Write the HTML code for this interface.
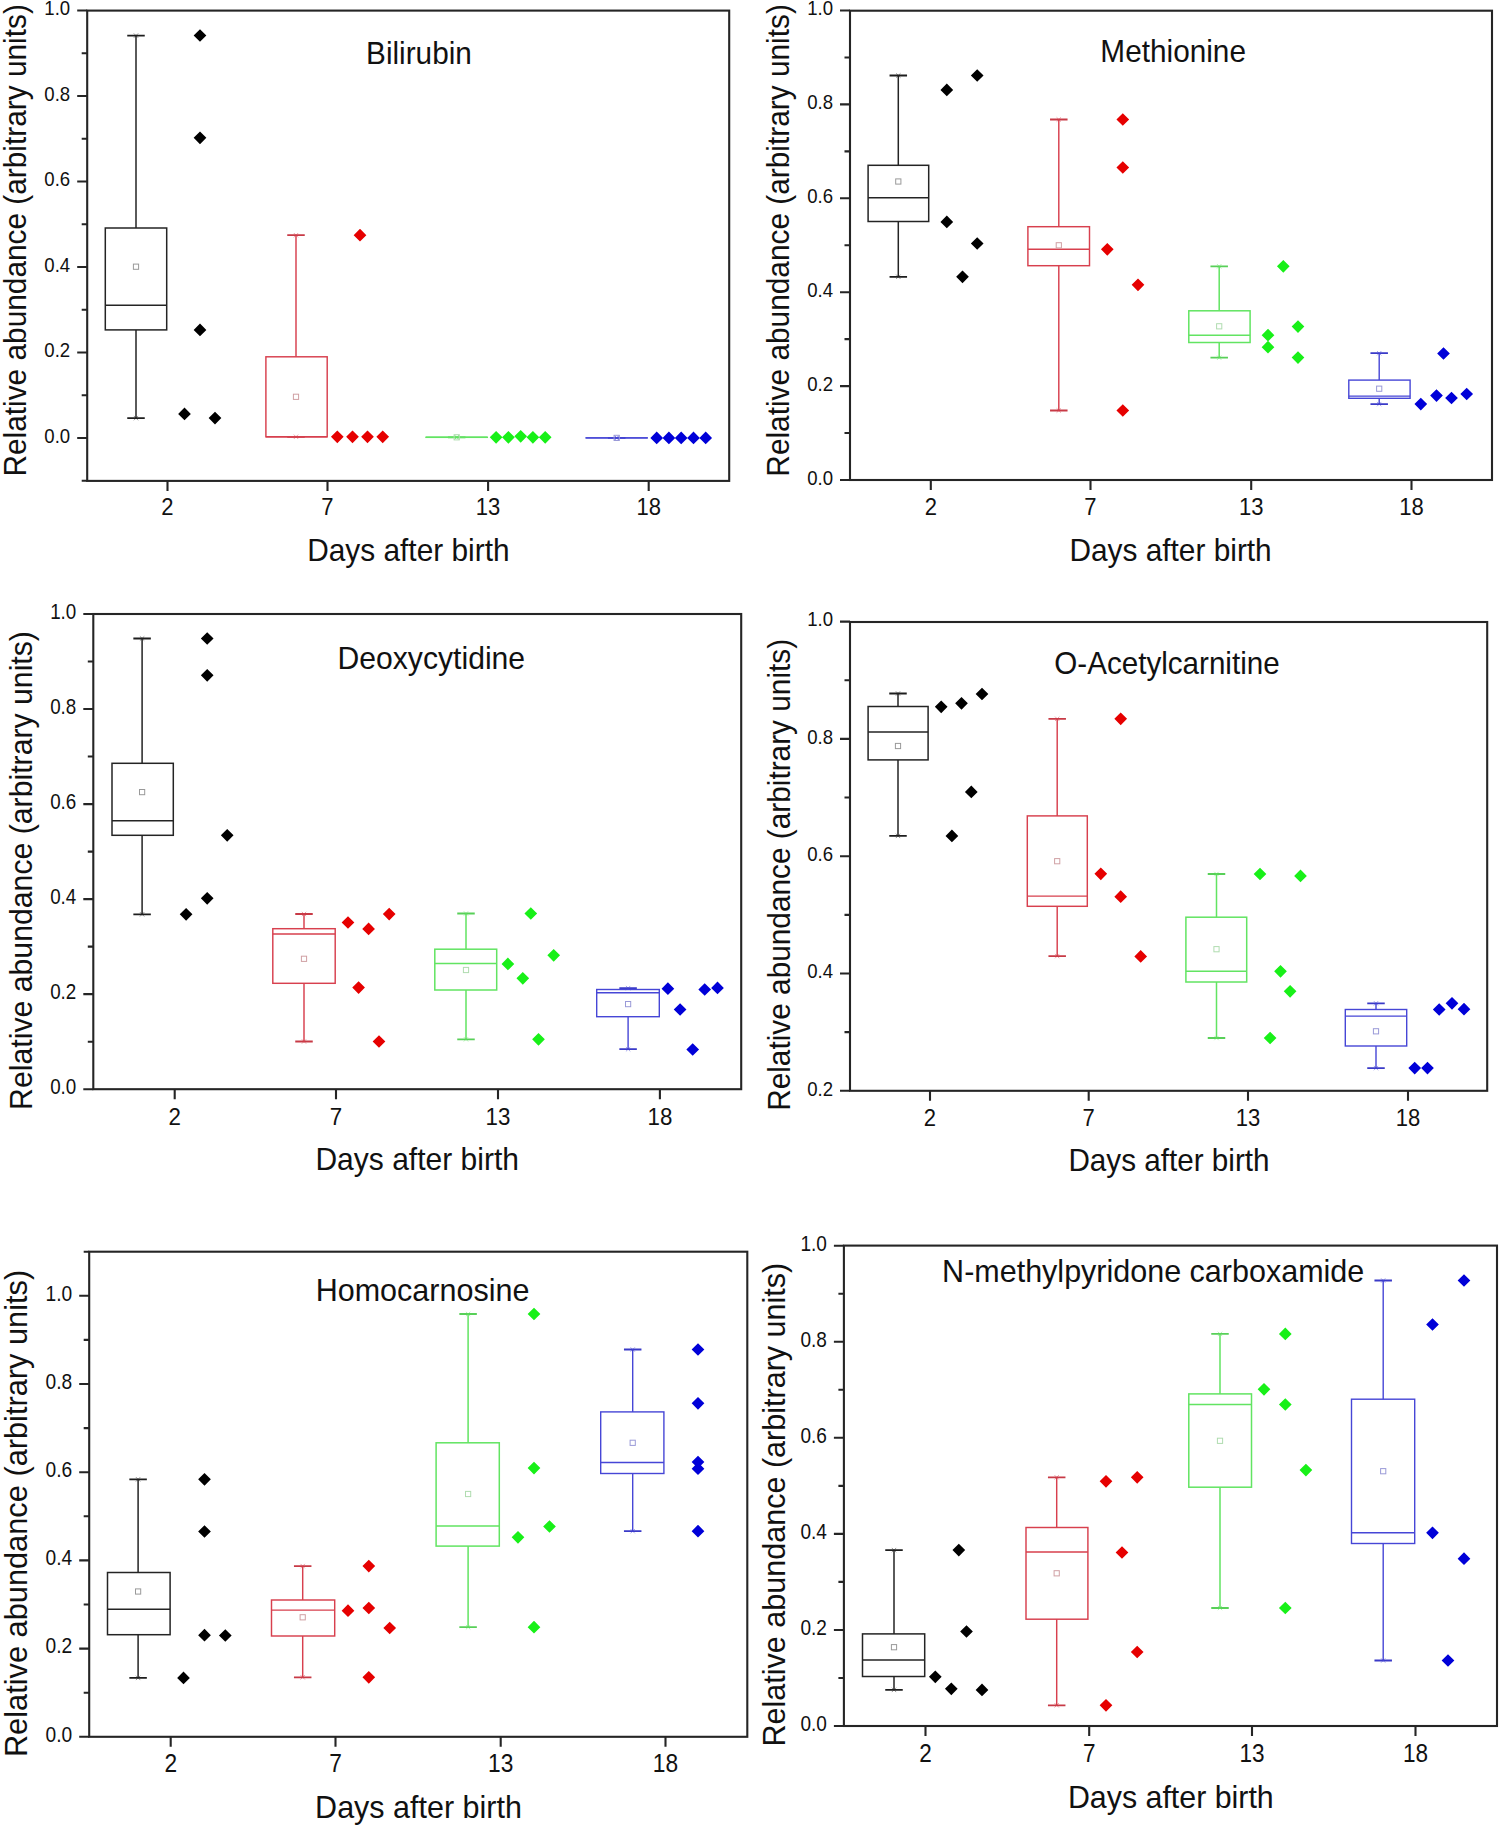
<!DOCTYPE html>
<html><head><meta charset="utf-8"><style>
html,body{margin:0;padding:0;background:#fff;}
svg{display:block;}
text{font-family:"Liberation Sans",sans-serif;fill:#111;}
</style></head><body>
<svg width="1500" height="1828" viewBox="0 0 1500 1828">
<rect width="1500" height="1828" fill="#fff"/>
<rect x="87.2" y="10.6" width="642" height="470.3" fill="none" stroke="#252525" stroke-width="2.1"/>
<path d="M77.2 438H87.2M77.2 352.5H87.2M77.2 267H87.2M77.2 181.5H87.2M77.2 96H87.2M77.2 10.5H87.2M81.7 480.75H87.2M81.7 395.25H87.2M81.7 309.75H87.2M81.7 224.25H87.2M81.7 138.75H87.2M81.7 53.25H87.2M167.5 480.9V490.9M327.5 480.9V490.9M488.1 480.9V490.9M648.7 480.9V490.9" stroke="#252525" stroke-width="2.1" fill="none"/>
<text transform="translate(70.2 442.7) scale(0.89 1)" text-anchor="end" fill="#222" font-size="20.9">0.0</text>
<text transform="translate(70.2 357.2) scale(0.89 1)" text-anchor="end" fill="#222" font-size="20.9">0.2</text>
<text transform="translate(70.2 271.7) scale(0.89 1)" text-anchor="end" fill="#222" font-size="20.9">0.4</text>
<text transform="translate(70.2 186.2) scale(0.89 1)" text-anchor="end" fill="#222" font-size="20.9">0.6</text>
<text transform="translate(70.2 100.7) scale(0.89 1)" text-anchor="end" fill="#222" font-size="20.9">0.8</text>
<text transform="translate(70.2 15.2) scale(0.89 1)" text-anchor="end" fill="#222" font-size="20.9">1.0</text>
<text transform="translate(167.5 515.2) scale(0.9 1)" text-anchor="middle" fill="#1a1a1a" font-size="24.5">2</text>
<text transform="translate(327.5 515.2) scale(0.9 1)" text-anchor="middle" fill="#1a1a1a" font-size="24.5">7</text>
<text transform="translate(488.1 515.2) scale(0.9 1)" text-anchor="middle" fill="#1a1a1a" font-size="24.5">13</text>
<text transform="translate(648.7 515.2) scale(0.9 1)" text-anchor="middle" fill="#1a1a1a" font-size="24.5">18</text>
<text transform="translate(366.05 64) scale(0.9752 1)" font-size="30.5">Bilirubin</text>
<text transform="translate(307.24 560.6) scale(0.9788 1)" font-size="30.5">Days after birth</text>
<text transform="translate(26.3 476.56) rotate(-90) scale(0.9781 1)" font-size="30.5">Relative abundance (arbitrary units)</text>
<path d="M136 35.6V228M136 329.9V418.1M105.3 305.3H166.7" stroke="#242424" stroke-width="1.5" fill="none"/>
<path d="M127.25 35.6H144.75M127.25 418.1H144.75" stroke="#1e1e1e" stroke-width="1.8" fill="none"/>
<rect x="105.3" y="228" width="61.4" height="101.9" fill="none" stroke="#242424" stroke-width="1.5"/>
<path d="M133.8 33.4L138.2 37.8M138.2 33.4L133.8 37.8M133.8 415.9L138.2 420.3M138.2 415.9L133.8 420.3" stroke="#242424" stroke-width="0.8" opacity="0.6" fill="none"/>
<rect x="133.4" y="264.1" width="5.2" height="5.2" fill="none" stroke="#999999" stroke-width="1"/>
<path d="M296 235.2V356.8M296 436.8V436.8M265.9 436.8H327.2" stroke="#d8404e" stroke-width="1.45" fill="none"/>
<path d="M287.25 235.2H304.75M287.25 436.8H304.75" stroke="#c83a46" stroke-width="1.8" fill="none"/>
<rect x="265.9" y="356.8" width="61.3" height="80" fill="none" stroke="#d8404e" stroke-width="1.45"/>
<path d="M293.8 233L298.2 237.4M298.2 233L293.8 237.4M293.8 434.6L298.2 439M298.2 434.6L293.8 439" stroke="#d8404e" stroke-width="0.8" opacity="0.6" fill="none"/>
<rect x="293.4" y="394.2" width="5.2" height="5.2" fill="none" stroke="#d0a0a4" stroke-width="1"/>
<path d="M456.7 437.3V437.3M456.7 437.3V437.3M426 437.3H487.3" stroke="#62e462" stroke-width="1.5" fill="none"/>
<path d="M447.95 437.3H465.45M447.95 437.3H465.45" stroke="#58d058" stroke-width="1.8" fill="none"/>
<rect x="426" y="437.3" width="61.3" height="0.01" fill="none" stroke="#62e462" stroke-width="1.5"/>
<path d="M454.5 435.1L458.9 439.5M458.9 435.1L454.5 439.5M454.5 435.1L458.9 439.5M458.9 435.1L454.5 439.5" stroke="#62e462" stroke-width="0.8" opacity="0.6" fill="none"/>
<rect x="454.1" y="434.7" width="5.2" height="5.2" fill="none" stroke="#b0dcb0" stroke-width="1"/>
<path d="M616.7 437.9V437.9M616.7 437.9V437.9M586 437.9H647.3" stroke="#4646d6" stroke-width="1.4" fill="none"/>
<path d="M607.95 437.9H625.45M607.95 437.9H625.45" stroke="#3a3ac8" stroke-width="1.8" fill="none"/>
<rect x="586" y="437.9" width="61.3" height="0.01" fill="none" stroke="#4646d6" stroke-width="1.4"/>
<path d="M614.5 435.7L618.9 440.1M618.9 435.7L614.5 440.1M614.5 435.7L618.9 440.1M618.9 435.7L614.5 440.1" stroke="#4646d6" stroke-width="0.8" opacity="0.6" fill="none"/>
<rect x="614.1" y="435.3" width="5.2" height="5.2" fill="none" stroke="#9a9ad8" stroke-width="1"/>
<path d="M200 29.15L206.35 35.5L200 41.85L193.65 35.5ZM200 131.45L206.35 137.8L200 144.15L193.65 137.8ZM200 323.55L206.35 329.9L200 336.25L193.65 329.9ZM184.5 407.55L190.85 413.9L184.5 420.25L178.15 413.9ZM215 411.75L221.35 418.1L215 424.45L208.65 418.1Z" fill="#000000"/>
<path d="M360 228.85L366.35 235.2L360 241.55L353.65 235.2ZM337.3 430.45L343.65 436.8L337.3 443.15L330.95 436.8ZM352.5 430.45L358.85 436.8L352.5 443.15L346.15 436.8ZM367.5 430.45L373.85 436.8L367.5 443.15L361.15 436.8ZM382.7 430.45L389.05 436.8L382.7 443.15L376.35 436.8Z" fill="#e60000"/>
<path d="M496.1 430.95L502.45 437.3L496.1 443.65L489.75 437.3ZM508.4 430.95L514.75 437.3L508.4 443.65L502.05 437.3ZM520.7 429.95L527.05 436.3L520.7 442.65L514.35 436.3ZM532.9 430.95L539.25 437.3L532.9 443.65L526.55 437.3ZM545.2 430.95L551.55 437.3L545.2 443.65L538.85 437.3Z" fill="#18f018"/>
<path d="M656.7 431.55L663.05 437.9L656.7 444.25L650.35 437.9ZM668.9 431.55L675.25 437.9L668.9 444.25L662.55 437.9ZM681.2 431.55L687.55 437.9L681.2 444.25L674.85 437.9ZM693.5 431.55L699.85 437.9L693.5 444.25L687.15 437.9ZM705.7 431.55L712.05 437.9L705.7 444.25L699.35 437.9Z" fill="#0000d8"/>
<rect x="850" y="10.7" width="642" height="469.3" fill="none" stroke="#252525" stroke-width="2.1"/>
<path d="M840 480H850M840 386.1H850M840 292.2H850M840 198.3H850M840 104.4H850M840 10.5H850M844.5 433.05H850M844.5 339.15H850M844.5 245.25H850M844.5 151.35H850M844.5 57.45H850M930.8 480V490M1090.5 480V490M1251.2 480V490M1411.5 480V490" stroke="#252525" stroke-width="2.1" fill="none"/>
<text transform="translate(833 484.7) scale(0.89 1)" text-anchor="end" fill="#222" font-size="20.9">0.0</text>
<text transform="translate(833 390.8) scale(0.89 1)" text-anchor="end" fill="#222" font-size="20.9">0.2</text>
<text transform="translate(833 296.9) scale(0.89 1)" text-anchor="end" fill="#222" font-size="20.9">0.4</text>
<text transform="translate(833 203) scale(0.89 1)" text-anchor="end" fill="#222" font-size="20.9">0.6</text>
<text transform="translate(833 109.1) scale(0.89 1)" text-anchor="end" fill="#222" font-size="20.9">0.8</text>
<text transform="translate(833 15.2) scale(0.89 1)" text-anchor="end" fill="#222" font-size="20.9">1.0</text>
<text transform="translate(930.8 515.3) scale(0.9 1)" text-anchor="middle" fill="#1a1a1a" font-size="24.5">2</text>
<text transform="translate(1090.5 515.3) scale(0.9 1)" text-anchor="middle" fill="#1a1a1a" font-size="24.5">7</text>
<text transform="translate(1251.2 515.3) scale(0.9 1)" text-anchor="middle" fill="#1a1a1a" font-size="24.5">13</text>
<text transform="translate(1411.5 515.3) scale(0.9 1)" text-anchor="middle" fill="#1a1a1a" font-size="24.5">18</text>
<text transform="translate(1100.35 62.3) scale(0.9767 1)" font-size="30.5">Methionine</text>
<text transform="translate(1069.44 560.6) scale(0.9788 1)" font-size="30.5">Days after birth</text>
<text transform="translate(789 476.66) rotate(-90) scale(0.9785 1)" font-size="30.5">Relative abundance (arbitrary units)</text>
<path d="M898.3 75.5V165.3M898.3 221.5V276.8M868.1 197.7H928.7" stroke="#242424" stroke-width="1.5" fill="none"/>
<path d="M889.55 75.5H907.05M889.55 276.8H907.05" stroke="#1e1e1e" stroke-width="1.8" fill="none"/>
<rect x="868.1" y="165.3" width="60.6" height="56.2" fill="none" stroke="#242424" stroke-width="1.5"/>
<path d="M896.1 73.3L900.5 77.7M900.5 73.3L896.1 77.7M896.1 274.6L900.5 279M900.5 274.6L896.1 279" stroke="#242424" stroke-width="0.8" opacity="0.6" fill="none"/>
<rect x="895.7" y="178.9" width="5.2" height="5.2" fill="none" stroke="#999999" stroke-width="1"/>
<path d="M1058.8 119.5V226.7M1058.8 265.7V410.5M1027.9 249.3H1089.5" stroke="#d8404e" stroke-width="1.45" fill="none"/>
<path d="M1050.05 119.5H1067.55M1050.05 410.5H1067.55" stroke="#c83a46" stroke-width="1.8" fill="none"/>
<rect x="1027.9" y="226.7" width="61.6" height="39" fill="none" stroke="#d8404e" stroke-width="1.45"/>
<path d="M1056.6 117.3L1061 121.7M1061 117.3L1056.6 121.7M1056.6 408.3L1061 412.7M1061 408.3L1056.6 412.7" stroke="#d8404e" stroke-width="0.8" opacity="0.6" fill="none"/>
<rect x="1056.2" y="242.7" width="5.2" height="5.2" fill="none" stroke="#d0a0a4" stroke-width="1"/>
<path d="M1219.2 266.3V310.8M1219.2 342.5V357.7M1188.8 335.3H1250.1" stroke="#62e462" stroke-width="1.5" fill="none"/>
<path d="M1210.45 266.3H1227.95M1210.45 357.7H1227.95" stroke="#58d058" stroke-width="1.8" fill="none"/>
<rect x="1188.8" y="310.8" width="61.3" height="31.7" fill="none" stroke="#62e462" stroke-width="1.5"/>
<path d="M1217 264.1L1221.4 268.5M1221.4 264.1L1217 268.5M1217 355.5L1221.4 359.9M1221.4 355.5L1217 359.9" stroke="#62e462" stroke-width="0.8" opacity="0.6" fill="none"/>
<rect x="1216.6" y="323.7" width="5.2" height="5.2" fill="none" stroke="#b0dcb0" stroke-width="1"/>
<path d="M1379.2 353.2V380.1M1379.2 398.3V404.1M1348.8 396.1H1410.1" stroke="#4646d6" stroke-width="1.4" fill="none"/>
<path d="M1370.45 353.2H1387.95M1370.45 404.1H1387.95" stroke="#3a3ac8" stroke-width="1.8" fill="none"/>
<rect x="1348.8" y="380.1" width="61.3" height="18.2" fill="none" stroke="#4646d6" stroke-width="1.4"/>
<path d="M1377 351L1381.4 355.4M1381.4 351L1377 355.4M1377 401.9L1381.4 406.3M1381.4 401.9L1377 406.3" stroke="#4646d6" stroke-width="0.8" opacity="0.6" fill="none"/>
<rect x="1376.6" y="386.1" width="5.2" height="5.2" fill="none" stroke="#9a9ad8" stroke-width="1"/>
<path d="M946.8 83.55L953.15 89.9L946.8 96.25L940.45 89.9ZM977.2 69.15L983.55 75.5L977.2 81.85L970.85 75.5ZM946.8 215.55L953.15 221.9L946.8 228.25L940.45 221.9ZM977.2 237.15L983.55 243.5L977.2 249.85L970.85 243.5ZM962.5 270.45L968.85 276.8L962.5 283.15L956.15 276.8Z" fill="#000000"/>
<path d="M1122.8 113.15L1129.15 119.5L1122.8 125.85L1116.45 119.5ZM1122.8 161.15L1129.15 167.5L1122.8 173.85L1116.45 167.5ZM1107.3 242.95L1113.65 249.3L1107.3 255.65L1100.95 249.3ZM1138 278.45L1144.35 284.8L1138 291.15L1131.65 284.8ZM1122.8 404.15L1129.15 410.5L1122.8 416.85L1116.45 410.5Z" fill="#e60000"/>
<path d="M1283.3 259.95L1289.65 266.3L1283.3 272.65L1276.95 266.3ZM1268 328.85L1274.35 335.2L1268 341.55L1261.65 335.2ZM1268 340.85L1274.35 347.2L1268 353.55L1261.65 347.2ZM1298 320.25L1304.35 326.6L1298 332.95L1291.65 326.6ZM1298 351.25L1304.35 357.6L1298 363.95L1291.65 357.6Z" fill="#18f018"/>
<path d="M1443.5 347.15L1449.85 353.5L1443.5 359.85L1437.15 353.5ZM1420.8 397.75L1427.15 404.1L1420.8 410.45L1414.45 404.1ZM1436.5 389.25L1442.85 395.6L1436.5 401.95L1430.15 395.6ZM1451.5 391.65L1457.85 398L1451.5 404.35L1445.15 398ZM1466.7 387.65L1473.05 394L1466.7 400.35L1460.35 394Z" fill="#0000d8"/>
<rect x="93.3" y="614" width="647.9" height="475.2" fill="none" stroke="#252525" stroke-width="2.1"/>
<path d="M83.3 1089.2H93.3M83.3 994.16H93.3M83.3 899.12H93.3M83.3 804.08H93.3M83.3 709.04H93.3M83.3 614H93.3M87.8 1041.68H93.3M87.8 946.64H93.3M87.8 851.6H93.3M87.8 756.56H93.3M87.8 661.52H93.3M174.7 1089.2V1099.2M336 1089.2V1099.2M498 1089.2V1099.2M659.9 1089.2V1099.2" stroke="#252525" stroke-width="2.1" fill="none"/>
<text transform="translate(76.3 1093.96) scale(0.89 1)" text-anchor="end" fill="#222" font-size="21.15">0.0</text>
<text transform="translate(76.3 998.92) scale(0.89 1)" text-anchor="end" fill="#222" font-size="21.15">0.2</text>
<text transform="translate(76.3 903.88) scale(0.89 1)" text-anchor="end" fill="#222" font-size="21.15">0.4</text>
<text transform="translate(76.3 808.84) scale(0.89 1)" text-anchor="end" fill="#222" font-size="21.15">0.6</text>
<text transform="translate(76.3 713.8) scale(0.89 1)" text-anchor="end" fill="#222" font-size="21.15">0.8</text>
<text transform="translate(76.3 618.76) scale(0.89 1)" text-anchor="end" fill="#222" font-size="21.15">1.0</text>
<text transform="translate(174.7 1125) scale(0.9 1)" text-anchor="middle" fill="#1a1a1a" font-size="24.79">2</text>
<text transform="translate(336 1125) scale(0.9 1)" text-anchor="middle" fill="#1a1a1a" font-size="24.79">7</text>
<text transform="translate(498 1125) scale(0.9 1)" text-anchor="middle" fill="#1a1a1a" font-size="24.79">13</text>
<text transform="translate(659.9 1125) scale(0.9 1)" text-anchor="middle" fill="#1a1a1a" font-size="24.79">18</text>
<text transform="translate(337.52 668.5) scale(0.9882 1)" font-size="30.5">Deoxycytidine</text>
<text transform="translate(315.43 1170.3) scale(0.9847 1)" font-size="30.5">Days after birth</text>
<text transform="translate(32.2 1109.88) rotate(-90) scale(0.9912 1)" font-size="30.5">Relative abundance (arbitrary units)</text>
<path d="M142.1 638.5V763.3M142.1 835.3V914.3M112 820.7H173.3" stroke="#242424" stroke-width="1.5" fill="none"/>
<path d="M133.35 638.5H150.85M133.35 914.3H150.85" stroke="#1e1e1e" stroke-width="1.8" fill="none"/>
<rect x="112" y="763.3" width="61.3" height="72" fill="none" stroke="#242424" stroke-width="1.5"/>
<path d="M139.9 636.3L144.3 640.7M144.3 636.3L139.9 640.7M139.9 912.1L144.3 916.5M144.3 912.1L139.9 916.5" stroke="#242424" stroke-width="0.8" opacity="0.6" fill="none"/>
<rect x="139.5" y="789.5" width="5.2" height="5.2" fill="none" stroke="#999999" stroke-width="1"/>
<path d="M304 914V928.7M304 983.3V1041.5M272.8 934H335.2" stroke="#d8404e" stroke-width="1.45" fill="none"/>
<path d="M295.25 914H312.75M295.25 1041.5H312.75" stroke="#c83a46" stroke-width="1.8" fill="none"/>
<rect x="272.8" y="928.7" width="62.4" height="54.6" fill="none" stroke="#d8404e" stroke-width="1.45"/>
<path d="M301.8 911.8L306.2 916.2M306.2 911.8L301.8 916.2M301.8 1039.3L306.2 1043.7M306.2 1039.3L301.8 1043.7" stroke="#d8404e" stroke-width="0.8" opacity="0.6" fill="none"/>
<rect x="301.4" y="956.2" width="5.2" height="5.2" fill="none" stroke="#d0a0a4" stroke-width="1"/>
<path d="M466 913.5V949.2M466 990V1039.3M434.8 963.6H496.7" stroke="#62e462" stroke-width="1.5" fill="none"/>
<path d="M457.25 913.5H474.75M457.25 1039.3H474.75" stroke="#58d058" stroke-width="1.8" fill="none"/>
<rect x="434.8" y="949.2" width="61.9" height="40.8" fill="none" stroke="#62e462" stroke-width="1.5"/>
<path d="M463.8 911.3L468.2 915.7M468.2 911.3L463.8 915.7M463.8 1037.1L468.2 1041.5M468.2 1037.1L463.8 1041.5" stroke="#62e462" stroke-width="0.8" opacity="0.6" fill="none"/>
<rect x="463.4" y="967.4" width="5.2" height="5.2" fill="none" stroke="#b0dcb0" stroke-width="1"/>
<path d="M628.1 988.1V989.5M628.1 1016.7V1049.2M596.7 992.7H659.3" stroke="#4646d6" stroke-width="1.4" fill="none"/>
<path d="M619.35 988.1H636.85M619.35 1049.2H636.85" stroke="#3a3ac8" stroke-width="1.8" fill="none"/>
<rect x="596.7" y="989.5" width="62.6" height="27.2" fill="none" stroke="#4646d6" stroke-width="1.4"/>
<path d="M625.9 985.9L630.3 990.3M630.3 985.9L625.9 990.3M625.9 1047L630.3 1051.4M630.3 1047L625.9 1051.4" stroke="#4646d6" stroke-width="0.8" opacity="0.6" fill="none"/>
<rect x="625.5" y="1001.5" width="5.2" height="5.2" fill="none" stroke="#9a9ad8" stroke-width="1"/>
<path d="M207.2 632.15L213.55 638.5L207.2 644.85L200.85 638.5ZM207.2 668.95L213.55 675.3L207.2 681.65L200.85 675.3ZM227.2 828.95L233.55 835.3L227.2 841.65L220.85 835.3ZM186.1 907.95L192.45 914.3L186.1 920.65L179.75 914.3ZM207.2 891.95L213.55 898.3L207.2 904.65L200.85 898.3Z" fill="#000000"/>
<path d="M348 916.15L354.35 922.5L348 928.85L341.65 922.5ZM368.6 922.55L374.95 928.9L368.6 935.25L362.25 928.9ZM389.2 907.75L395.55 914.1L389.2 920.45L382.85 914.1ZM358.6 981.25L364.95 987.6L358.6 993.95L352.25 987.6ZM379 1035.15L385.35 1041.5L379 1047.85L372.65 1041.5Z" fill="#e60000"/>
<path d="M530.8 907.15L537.15 913.5L530.8 919.85L524.45 913.5ZM507.9 957.55L514.25 963.9L507.9 970.25L501.55 963.9ZM522.8 971.95L529.15 978.3L522.8 984.65L516.45 978.3ZM553.7 948.95L560.05 955.3L553.7 961.65L547.35 955.3ZM538.5 1032.95L544.85 1039.3L538.5 1045.65L532.15 1039.3Z" fill="#18f018"/>
<path d="M667.9 982.35L674.25 988.7L667.9 995.05L661.55 988.7ZM680.1 1003.15L686.45 1009.5L680.1 1015.85L673.75 1009.5ZM692.7 1043.15L699.05 1049.5L692.7 1055.85L686.35 1049.5ZM704.7 983.15L711.05 989.5L704.7 995.85L698.35 989.5ZM717.5 981.55L723.85 987.9L717.5 994.25L711.15 987.9Z" fill="#0000d8"/>
<rect x="850" y="622" width="637.2" height="468.8" fill="none" stroke="#252525" stroke-width="2.1"/>
<path d="M840 1090.8H850M840 973.5H850M840 856.2H850M840 738.9H850M840 621.6H850M844.5 1032.15H850M844.5 914.85H850M844.5 797.55H850M844.5 680.25H850M930 1090.8V1100.8M1088.7 1090.8V1100.8M1248 1090.8V1100.8M1408 1090.8V1100.8" stroke="#252525" stroke-width="2.1" fill="none"/>
<text transform="translate(833 1095.5) scale(0.89 1)" text-anchor="end" fill="#222" font-size="20.9">0.2</text>
<text transform="translate(833 978.2) scale(0.89 1)" text-anchor="end" fill="#222" font-size="20.9">0.4</text>
<text transform="translate(833 860.9) scale(0.89 1)" text-anchor="end" fill="#222" font-size="20.9">0.6</text>
<text transform="translate(833 743.6) scale(0.89 1)" text-anchor="end" fill="#222" font-size="20.9">0.8</text>
<text transform="translate(833 626.3) scale(0.89 1)" text-anchor="end" fill="#222" font-size="20.9">1.0</text>
<text transform="translate(930 1125.5) scale(0.9 1)" text-anchor="middle" fill="#1a1a1a" font-size="24.5">2</text>
<text transform="translate(1088.7 1125.5) scale(0.9 1)" text-anchor="middle" fill="#1a1a1a" font-size="24.5">7</text>
<text transform="translate(1248 1125.5) scale(0.9 1)" text-anchor="middle" fill="#1a1a1a" font-size="24.5">13</text>
<text transform="translate(1408 1125.5) scale(0.9 1)" text-anchor="middle" fill="#1a1a1a" font-size="24.5">18</text>
<text transform="translate(1054.33 674.1) scale(0.9704 1)" font-size="30.5">O-Acetylcarnitine</text>
<text transform="translate(1068.45 1170.6) scale(0.9729 1)" font-size="30.5">Days after birth</text>
<text transform="translate(789.5 1110.85) rotate(-90) scale(0.9775 1)" font-size="30.5">Relative abundance (arbitrary units)</text>
<path d="M898 693.5V706.5M898 759.9V835.9M868.1 731.9H928.1" stroke="#242424" stroke-width="1.5" fill="none"/>
<path d="M889.25 693.5H906.75M889.25 835.9H906.75" stroke="#1e1e1e" stroke-width="1.8" fill="none"/>
<rect x="868.1" y="706.5" width="60" height="53.4" fill="none" stroke="#242424" stroke-width="1.5"/>
<path d="M895.8 691.3L900.2 695.7M900.2 691.3L895.8 695.7M895.8 833.7L900.2 838.1M900.2 833.7L895.8 838.1" stroke="#242424" stroke-width="0.8" opacity="0.6" fill="none"/>
<rect x="895.4" y="743.4" width="5.2" height="5.2" fill="none" stroke="#999999" stroke-width="1"/>
<path d="M1057.2 718.8V815.9M1057.2 906.3V956.1M1027.3 896.1H1087.3" stroke="#d8404e" stroke-width="1.45" fill="none"/>
<path d="M1048.45 718.8H1065.95M1048.45 956.1H1065.95" stroke="#c83a46" stroke-width="1.8" fill="none"/>
<rect x="1027.3" y="815.9" width="60" height="90.4" fill="none" stroke="#d8404e" stroke-width="1.45"/>
<path d="M1055 716.6L1059.4 721M1059.4 716.6L1055 721M1055 953.9L1059.4 958.3M1059.4 953.9L1055 958.3" stroke="#d8404e" stroke-width="0.8" opacity="0.6" fill="none"/>
<rect x="1054.6" y="858.6" width="5.2" height="5.2" fill="none" stroke="#d0a0a4" stroke-width="1"/>
<path d="M1216.5 874V917.2M1216.5 982V1038M1185.9 971.3H1246.7" stroke="#62e462" stroke-width="1.5" fill="none"/>
<path d="M1207.75 874H1225.25M1207.75 1038H1225.25" stroke="#58d058" stroke-width="1.8" fill="none"/>
<rect x="1185.9" y="917.2" width="60.8" height="64.8" fill="none" stroke="#62e462" stroke-width="1.5"/>
<path d="M1214.3 871.8L1218.7 876.2M1218.7 871.8L1214.3 876.2M1214.3 1035.8L1218.7 1040.2M1218.7 1035.8L1214.3 1040.2" stroke="#62e462" stroke-width="0.8" opacity="0.6" fill="none"/>
<rect x="1213.9" y="946.6" width="5.2" height="5.2" fill="none" stroke="#b0dcb0" stroke-width="1"/>
<path d="M1376 1003.3V1009.5M1376 1046V1068.1M1345.3 1016.1H1406.7" stroke="#4646d6" stroke-width="1.4" fill="none"/>
<path d="M1367.25 1003.3H1384.75M1367.25 1068.1H1384.75" stroke="#3a3ac8" stroke-width="1.8" fill="none"/>
<rect x="1345.3" y="1009.5" width="61.4" height="36.5" fill="none" stroke="#4646d6" stroke-width="1.4"/>
<path d="M1373.8 1001.1L1378.2 1005.5M1378.2 1001.1L1373.8 1005.5M1373.8 1065.9L1378.2 1070.3M1378.2 1065.9L1373.8 1070.3" stroke="#4646d6" stroke-width="0.8" opacity="0.6" fill="none"/>
<rect x="1373.4" y="1028.7" width="5.2" height="5.2" fill="none" stroke="#9a9ad8" stroke-width="1"/>
<path d="M941.2 700.45L947.55 706.8L941.2 713.15L934.85 706.8ZM961.5 696.95L967.85 703.3L961.5 709.65L955.15 703.3ZM982 687.65L988.35 694L982 700.35L975.65 694ZM971.3 785.55L977.65 791.9L971.3 798.25L964.95 791.9ZM951.9 829.55L958.25 835.9L951.9 842.25L945.55 835.9Z" fill="#000000"/>
<path d="M1120.7 712.45L1127.05 718.8L1120.7 725.15L1114.35 718.8ZM1100.8 867.45L1107.15 873.8L1100.8 880.15L1094.45 873.8ZM1120.7 890.35L1127.05 896.7L1120.7 903.05L1114.35 896.7ZM1140.7 950.05L1147.05 956.4L1140.7 962.75L1134.35 956.4Z" fill="#e60000"/>
<path d="M1260 867.65L1266.35 874L1260 880.35L1253.65 874ZM1300.5 869.55L1306.85 875.9L1300.5 882.25L1294.15 875.9ZM1280.5 964.95L1286.85 971.3L1280.5 977.65L1274.15 971.3ZM1290.1 984.95L1296.45 991.3L1290.1 997.65L1283.75 991.3ZM1270.1 1031.65L1276.45 1038L1270.1 1044.35L1263.75 1038Z" fill="#18f018"/>
<path d="M1414.7 1061.75L1421.05 1068.1L1414.7 1074.45L1408.35 1068.1ZM1427.5 1061.75L1433.85 1068.1L1427.5 1074.45L1421.15 1068.1ZM1439.2 1003.15L1445.55 1009.5L1439.2 1015.85L1432.85 1009.5ZM1452 996.95L1458.35 1003.3L1452 1009.65L1445.65 1003.3ZM1464 1002.85L1470.35 1009.2L1464 1015.55L1457.65 1009.2Z" fill="#0000d8"/>
<rect x="89.2" y="1251.7" width="658.1" height="485.1" fill="none" stroke="#252525" stroke-width="2.1"/>
<path d="M79.2 1736.8H89.2M79.2 1648.6H89.2M79.2 1560.4H89.2M79.2 1472.2H89.2M79.2 1384H89.2M79.2 1295.8H89.2M83.7 1692.7H89.2M83.7 1604.5H89.2M83.7 1516.3H89.2M83.7 1428.1H89.2M83.7 1339.9H89.2M83.7 1251.7H89.2M170.7 1736.8V1746.8M335.5 1736.8V1746.8M500.7 1736.8V1746.8M665.5 1736.8V1746.8" stroke="#252525" stroke-width="2.1" fill="none"/>
<text transform="translate(72.2 1741.65) scale(0.89 1)" text-anchor="end" fill="#222" font-size="21.55">0.0</text>
<text transform="translate(72.2 1653.45) scale(0.89 1)" text-anchor="end" fill="#222" font-size="21.55">0.2</text>
<text transform="translate(72.2 1565.25) scale(0.89 1)" text-anchor="end" fill="#222" font-size="21.55">0.4</text>
<text transform="translate(72.2 1477.05) scale(0.89 1)" text-anchor="end" fill="#222" font-size="21.55">0.6</text>
<text transform="translate(72.2 1388.85) scale(0.89 1)" text-anchor="end" fill="#222" font-size="21.55">0.8</text>
<text transform="translate(72.2 1300.65) scale(0.89 1)" text-anchor="end" fill="#222" font-size="21.55">1.0</text>
<text transform="translate(170.7 1772.2) scale(0.9 1)" text-anchor="middle" fill="#1a1a1a" font-size="25.26">2</text>
<text transform="translate(335.5 1772.2) scale(0.9 1)" text-anchor="middle" fill="#1a1a1a" font-size="25.26">7</text>
<text transform="translate(500.7 1772.2) scale(0.9 1)" text-anchor="middle" fill="#1a1a1a" font-size="25.26">13</text>
<text transform="translate(665.5 1772.2) scale(0.9 1)" text-anchor="middle" fill="#1a1a1a" font-size="25.26">18</text>
<text transform="translate(315.7 1300.9) scale(1.0005 1)" font-size="30.5">Homocarnosine</text>
<text transform="translate(315.1 1818.2) scale(1.0005 1)" font-size="30.5">Days after birth</text>
<text transform="translate(26.7 1757.12) rotate(-90) scale(1.0092 1)" font-size="30.5">Relative abundance (arbitrary units)</text>
<path d="M138.1 1479.3V1572.5M138.1 1634.7V1677.9M107.5 1609.3H170.1" stroke="#242424" stroke-width="1.5" fill="none"/>
<path d="M129.35 1479.3H146.85M129.35 1677.9H146.85" stroke="#1e1e1e" stroke-width="1.8" fill="none"/>
<rect x="107.5" y="1572.5" width="62.6" height="62.2" fill="none" stroke="#242424" stroke-width="1.5"/>
<path d="M135.9 1477.1L140.3 1481.5M140.3 1477.1L135.9 1481.5M135.9 1675.7L140.3 1680.1M140.3 1675.7L135.9 1680.1" stroke="#242424" stroke-width="0.8" opacity="0.6" fill="none"/>
<rect x="135.5" y="1588.9" width="5.2" height="5.2" fill="none" stroke="#999999" stroke-width="1"/>
<path d="M302.7 1566.1V1600M302.7 1636V1677.3M271.5 1610.1H334.7" stroke="#d8404e" stroke-width="1.45" fill="none"/>
<path d="M293.95 1566.1H311.45M293.95 1677.3H311.45" stroke="#c83a46" stroke-width="1.8" fill="none"/>
<rect x="271.5" y="1600" width="63.2" height="36" fill="none" stroke="#d8404e" stroke-width="1.45"/>
<path d="M300.5 1563.9L304.9 1568.3M304.9 1563.9L300.5 1568.3M300.5 1675.1L304.9 1679.5M304.9 1675.1L300.5 1679.5" stroke="#d8404e" stroke-width="0.8" opacity="0.6" fill="none"/>
<rect x="300.1" y="1614.7" width="5.2" height="5.2" fill="none" stroke="#d0a0a4" stroke-width="1"/>
<path d="M468.1 1314V1442.8M468.1 1546.1V1627.2M436.1 1526H499.3" stroke="#62e462" stroke-width="1.5" fill="none"/>
<path d="M459.35 1314H476.85M459.35 1627.2H476.85" stroke="#58d058" stroke-width="1.8" fill="none"/>
<rect x="436.1" y="1442.8" width="63.2" height="103.3" fill="none" stroke="#62e462" stroke-width="1.5"/>
<path d="M465.9 1311.8L470.3 1316.2M470.3 1311.8L465.9 1316.2M465.9 1625L470.3 1629.4M470.3 1625L465.9 1629.4" stroke="#62e462" stroke-width="0.8" opacity="0.6" fill="none"/>
<rect x="465.5" y="1491.4" width="5.2" height="5.2" fill="none" stroke="#b0dcb0" stroke-width="1"/>
<path d="M632.7 1349.5V1411.9M632.7 1473.5V1531.2M600.7 1462.5H663.9" stroke="#4646d6" stroke-width="1.4" fill="none"/>
<path d="M623.95 1349.5H641.45M623.95 1531.2H641.45" stroke="#3a3ac8" stroke-width="1.8" fill="none"/>
<rect x="600.7" y="1411.9" width="63.2" height="61.6" fill="none" stroke="#4646d6" stroke-width="1.4"/>
<path d="M630.5 1347.3L634.9 1351.7M634.9 1347.3L630.5 1351.7M630.5 1529L634.9 1533.4M634.9 1529L630.5 1533.4" stroke="#4646d6" stroke-width="0.8" opacity="0.6" fill="none"/>
<rect x="630.1" y="1440.2" width="5.2" height="5.2" fill="none" stroke="#9a9ad8" stroke-width="1"/>
<path d="M204.5 1472.95L210.85 1479.3L204.5 1485.65L198.15 1479.3ZM204.5 1525.15L210.85 1531.5L204.5 1537.85L198.15 1531.5ZM204.5 1628.85L210.85 1635.2L204.5 1641.55L198.15 1635.2ZM225.3 1629.15L231.65 1635.5L225.3 1641.85L218.95 1635.5ZM183.5 1671.55L189.85 1677.9L183.5 1684.25L177.15 1677.9Z" fill="#000000"/>
<path d="M368.8 1559.75L375.15 1566.1L368.8 1572.45L362.45 1566.1ZM368.8 1601.65L375.15 1608L368.8 1614.35L362.45 1608ZM348 1604.35L354.35 1610.7L348 1617.05L341.65 1610.7ZM389.7 1621.65L396.05 1628L389.7 1634.35L383.35 1628ZM368.8 1670.95L375.15 1677.3L368.8 1683.65L362.45 1677.3Z" fill="#e60000"/>
<path d="M534 1307.65L540.35 1314L534 1320.35L527.65 1314ZM534 1461.75L540.35 1468.1L534 1474.45L527.65 1468.1ZM518 1530.95L524.35 1537.3L518 1543.65L511.65 1537.3ZM549.5 1520.15L555.85 1526.5L549.5 1532.85L543.15 1526.5ZM534 1620.85L540.35 1627.2L534 1633.55L527.65 1627.2Z" fill="#18f018"/>
<path d="M698 1343.15L704.35 1349.5L698 1355.85L691.65 1349.5ZM698 1396.95L704.35 1403.3L698 1409.65L691.65 1403.3ZM698 1455.65L704.35 1462L698 1468.35L691.65 1462ZM698 1462.35L704.35 1468.7L698 1475.05L691.65 1468.7ZM698 1524.85L704.35 1531.2L698 1537.55L691.65 1531.2Z" fill="#0000d8"/>
<rect x="843.9" y="1245.6" width="653.1" height="480.4" fill="none" stroke="#252525" stroke-width="2.1"/>
<path d="M833.9 1726H843.9M833.9 1629.94H843.9M833.9 1533.88H843.9M833.9 1437.82H843.9M833.9 1341.76H843.9M833.9 1245.7H843.9M838.4 1677.97H843.9M838.4 1581.91H843.9M838.4 1485.85H843.9M838.4 1389.79H843.9M838.4 1293.73H843.9M925.5 1726V1736M1089.2 1726V1736M1252 1726V1736M1415.5 1726V1736" stroke="#252525" stroke-width="2.1" fill="none"/>
<text transform="translate(826.9 1730.81) scale(0.89 1)" text-anchor="end" fill="#222" font-size="21.38">0.0</text>
<text transform="translate(826.9 1634.75) scale(0.89 1)" text-anchor="end" fill="#222" font-size="21.38">0.2</text>
<text transform="translate(826.9 1538.69) scale(0.89 1)" text-anchor="end" fill="#222" font-size="21.38">0.4</text>
<text transform="translate(826.9 1442.63) scale(0.89 1)" text-anchor="end" fill="#222" font-size="21.38">0.6</text>
<text transform="translate(826.9 1346.57) scale(0.89 1)" text-anchor="end" fill="#222" font-size="21.38">0.8</text>
<text transform="translate(826.9 1250.51) scale(0.89 1)" text-anchor="end" fill="#222" font-size="21.38">1.0</text>
<text transform="translate(925.5 1761.7) scale(0.9 1)" text-anchor="middle" fill="#1a1a1a" font-size="25.06">2</text>
<text transform="translate(1089.2 1761.7) scale(0.9 1)" text-anchor="middle" fill="#1a1a1a" font-size="25.06">7</text>
<text transform="translate(1252 1761.7) scale(0.9 1)" text-anchor="middle" fill="#1a1a1a" font-size="25.06">13</text>
<text transform="translate(1415.5 1761.7) scale(0.9 1)" text-anchor="middle" fill="#1a1a1a" font-size="25.06">18</text>
<text transform="translate(942.1 1282.1) scale(1.0002 1)" font-size="30.5">N-methylpyridone carboxamide</text>
<text transform="translate(1067.91 1807.5) scale(0.9956 1)" font-size="30.5">Days after birth</text>
<text transform="translate(784.8 1746.6) rotate(-90) scale(1.0019 1)" font-size="30.5">Relative abundance (arbitrary units)</text>
<path d="M894 1550.1V1633.9M894 1676.5V1689.9M862.5 1660H924.7" stroke="#242424" stroke-width="1.5" fill="none"/>
<path d="M885.25 1550.1H902.75M885.25 1689.9H902.75" stroke="#1e1e1e" stroke-width="1.8" fill="none"/>
<rect x="862.5" y="1633.9" width="62.2" height="42.6" fill="none" stroke="#242424" stroke-width="1.5"/>
<path d="M891.8 1547.9L896.2 1552.3M896.2 1547.9L891.8 1552.3M891.8 1687.7L896.2 1692.1M896.2 1687.7L891.8 1692.1" stroke="#242424" stroke-width="0.8" opacity="0.6" fill="none"/>
<rect x="891.4" y="1644.6" width="5.2" height="5.2" fill="none" stroke="#999999" stroke-width="1"/>
<path d="M1056.7 1477.3V1527.5M1056.7 1619.2V1705.3M1026 1552H1087.9" stroke="#d8404e" stroke-width="1.45" fill="none"/>
<path d="M1047.95 1477.3H1065.45M1047.95 1705.3H1065.45" stroke="#c83a46" stroke-width="1.8" fill="none"/>
<rect x="1026" y="1527.5" width="61.9" height="91.7" fill="none" stroke="#d8404e" stroke-width="1.45"/>
<path d="M1054.5 1475.1L1058.9 1479.5M1058.9 1475.1L1054.5 1479.5M1054.5 1703.1L1058.9 1707.5M1058.9 1703.1L1054.5 1707.5" stroke="#d8404e" stroke-width="0.8" opacity="0.6" fill="none"/>
<rect x="1054.1" y="1570.7" width="5.2" height="5.2" fill="none" stroke="#d0a0a4" stroke-width="1"/>
<path d="M1220 1333.9V1393.9M1220 1487.2V1608M1188.8 1404.5H1251.5" stroke="#62e462" stroke-width="1.5" fill="none"/>
<path d="M1211.25 1333.9H1228.75M1211.25 1608H1228.75" stroke="#58d058" stroke-width="1.8" fill="none"/>
<rect x="1188.8" y="1393.9" width="62.7" height="93.3" fill="none" stroke="#62e462" stroke-width="1.5"/>
<path d="M1217.8 1331.7L1222.2 1336.1M1222.2 1331.7L1217.8 1336.1M1217.8 1605.8L1222.2 1610.2M1222.2 1605.8L1217.8 1610.2" stroke="#62e462" stroke-width="0.8" opacity="0.6" fill="none"/>
<rect x="1217.4" y="1438.2" width="5.2" height="5.2" fill="none" stroke="#b0dcb0" stroke-width="1"/>
<path d="M1383.2 1280.5V1399.2M1383.2 1543.5V1660.5M1351.5 1532.8H1414.7" stroke="#4646d6" stroke-width="1.4" fill="none"/>
<path d="M1374.45 1280.5H1391.95M1374.45 1660.5H1391.95" stroke="#3a3ac8" stroke-width="1.8" fill="none"/>
<rect x="1351.5" y="1399.2" width="63.2" height="144.3" fill="none" stroke="#4646d6" stroke-width="1.4"/>
<path d="M1381 1278.3L1385.4 1282.7M1385.4 1278.3L1381 1282.7M1381 1658.3L1385.4 1662.7M1385.4 1658.3L1381 1662.7" stroke="#4646d6" stroke-width="0.8" opacity="0.6" fill="none"/>
<rect x="1380.6" y="1468.6" width="5.2" height="5.2" fill="none" stroke="#9a9ad8" stroke-width="1"/>
<path d="M958.8 1543.75L965.15 1550.1L958.8 1556.45L952.45 1550.1ZM966.5 1625.15L972.85 1631.5L966.5 1637.85L960.15 1631.5ZM935.3 1670.45L941.65 1676.8L935.3 1683.15L928.95 1676.8ZM951.3 1682.45L957.65 1688.8L951.3 1695.15L944.95 1688.8ZM982 1683.55L988.35 1689.9L982 1696.25L975.65 1689.9Z" fill="#000000"/>
<path d="M1106 1474.95L1112.35 1481.3L1106 1487.65L1099.65 1481.3ZM1137.2 1470.95L1143.55 1477.3L1137.2 1483.65L1130.85 1477.3ZM1122 1546.15L1128.35 1552.5L1122 1558.85L1115.65 1552.5ZM1137.2 1645.65L1143.55 1652L1137.2 1658.35L1130.85 1652ZM1106 1698.95L1112.35 1705.3L1106 1711.65L1099.65 1705.3Z" fill="#e60000"/>
<path d="M1285.3 1327.55L1291.65 1333.9L1285.3 1340.25L1278.95 1333.9ZM1264 1382.95L1270.35 1389.3L1264 1395.65L1257.65 1389.3ZM1285.3 1398.15L1291.65 1404.5L1285.3 1410.85L1278.95 1404.5ZM1305.9 1463.75L1312.25 1470.1L1305.9 1476.45L1299.55 1470.1ZM1285.3 1601.65L1291.65 1608L1285.3 1614.35L1278.95 1608Z" fill="#18f018"/>
<path d="M1464 1274.15L1470.35 1280.5L1464 1286.85L1457.65 1280.5ZM1432.5 1318.15L1438.85 1324.5L1432.5 1330.85L1426.15 1324.5ZM1432.5 1526.45L1438.85 1532.8L1432.5 1539.15L1426.15 1532.8ZM1464 1552.35L1470.35 1558.7L1464 1565.05L1457.65 1558.7ZM1448 1654.15L1454.35 1660.5L1448 1666.85L1441.65 1660.5Z" fill="#0000d8"/>
</svg>
</body></html>
